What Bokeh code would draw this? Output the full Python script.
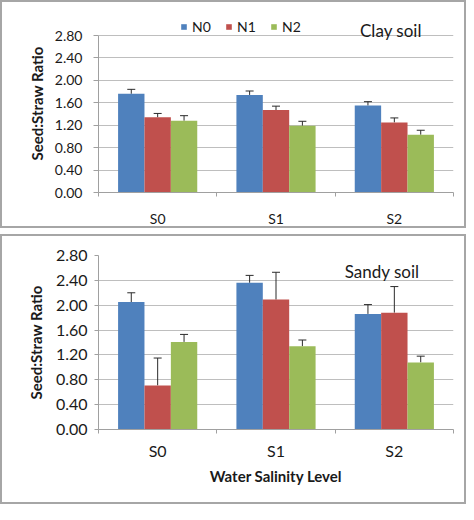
import numpy as np
from bokeh.plotting import figure
from bokeh.models import (ColumnDataSource, Range1d, FixedTicker, NumeralTickFormatter,
                          CustomJSTickFormatter, Whisker, TeeHead, Legend, LegendItem, Label)
from bokeh.layouts import column
from bokeh.embed import file_html
from bokeh.resources import INLINE

# ---------------- data ----------------
salinity = ["S0", "S1", "S2"]
nitrogen = ["N0", "N1", "N2"]
colors = ["#4F81BD", "#C0504D", "#9BBB59"]
y_ticks = [0.0, 0.4, 0.8, 1.2, 1.6, 2.0, 2.4, 2.8]

clay_N0 = [1.76, 1.74, 1.55]
clay_N1 = [1.34, 1.47, 1.25]
clay_N2 = [1.28, 1.19, 1.03]
clay_err_N0 = [0.08, 0.07, 0.07]
clay_err_N1 = [0.07, 0.07, 0.08]
clay_err_N2 = [0.09, 0.08, 0.08]

sandy_N0 = [2.05, 2.36, 1.86]
sandy_N1 = [0.71, 2.09, 1.88]
sandy_N2 = [1.41, 1.34, 1.08]
sandy_err_N0 = [0.15, 0.12, 0.15]
sandy_err_N1 = [0.44, 0.44, 0.42]
sandy_err_N2 = [0.12, 0.10, 0.10]

FONT = "Lato"
BAR_W = 0.223
W = 466


def make_panel(series, errors, height, ml, mr, mt, mb, head_px, plot_px, tick_fs, title_fs,
               soil_label, soil_x, soil_y, soil_fs, show_legend, xlabel,
               x_standoff, y_standoff, y_tick_out, ylab_standoff, xlab_standoff):
    ymax = y_ticks[-1]
    ytop = ymax * (plot_px + head_px) / plot_px
    p = figure(width=W, height=height, output_backend="svg", toolbar_location=None,
               x_range=Range1d(0, len(salinity)), y_range=Range1d(y_ticks[0], ytop),
               min_border_left=ml, min_border_right=mr, min_border_top=mt,
               min_border_bottom=mb)
    p.styles = {"border": "2px solid #A6A6A6"}
    p.outline_line_color = None
    p.background_fill_color = "white"
    p.border_fill_color = "white"

    centers = np.arange(len(salinity)) + 0.5
    offsets = [-BAR_W, 0.0, BAR_W]
    items = []
    for vals, errs, off, col, name in zip(series, errors, offsets, colors, nitrogen):
        vals = np.array(vals)
        src = ColumnDataSource(dict(x=centers + off, top=vals, hi=vals + np.array(errs)))
        r = p.vbar(x="x", top="top", bottom=0, width=BAR_W, source=src,
                   fill_color=col, line_color=None)
        items.append(LegendItem(label=name, renderers=[r]))
        w = Whisker(source=src, base="x", lower="top", upper="hi", dimension="height",
                    line_color="#2b2b2b", line_width=1,
                    upper_head=TeeHead(size=8, line_color="#2b2b2b", line_width=1),
                    lower_head=None)
        p.add_layout(w)

    # y axis
    p.yaxis.ticker = FixedTicker(ticks=y_ticks)
    p.yaxis.bounds = (y_ticks[0], ymax)
    p.yaxis.formatter = NumeralTickFormatter(format="0.00")
    p.yaxis.axis_label = "Seed:Straw Ratio"
    p.yaxis.axis_label_text_font = FONT
    p.yaxis.axis_label_text_font_style = "bold"
    p.yaxis.axis_label_text_font_size = title_fs
    p.yaxis.axis_label_text_color = "#1a1a1a"
    p.yaxis.axis_label_standoff = ylab_standoff
    p.yaxis.major_label_text_font = FONT
    p.yaxis.major_label_text_font_size = tick_fs
    p.yaxis.major_label_text_color = "#1a1a1a"
    p.yaxis.major_label_standoff = y_standoff
    p.yaxis.major_tick_in = 0
    p.yaxis.major_tick_out = y_tick_out
    p.yaxis.minor_tick_line_color = None
    p.yaxis.axis_line_color = "#A0A0A0"
    p.yaxis.major_tick_line_color = "#A0A0A0"

    # x axis
    p.xaxis.ticker = FixedTicker(ticks=list(centers), minor_ticks=list(range(len(salinity) + 1)))
    p.xaxis.formatter = CustomJSTickFormatter(args=dict(labels=salinity),
                                              code="return labels[Math.floor(tick)];")
    p.xaxis.major_tick_line_color = None
    p.xaxis.major_tick_in = 0
    p.xaxis.major_tick_out = 0
    p.xaxis.minor_tick_in = 0
    p.xaxis.minor_tick_out = 4
    p.xaxis.minor_tick_line_color = "#A0A0A0"
    p.xaxis.axis_line_color = "#A0A0A0"
    p.xaxis.major_label_text_font = FONT
    p.xaxis.major_label_text_font_size = tick_fs
    p.xaxis.major_label_text_color = "#1a1a1a"
    p.xaxis.major_label_standoff = x_standoff
    if xlabel:
        p.xaxis.axis_label = xlabel
        p.xaxis.axis_label_text_font = FONT
        p.xaxis.axis_label_text_font_style = "bold"
        p.xaxis.axis_label_text_font_size = title_fs
        p.xaxis.axis_label_text_color = "#1a1a1a"
        p.xaxis.axis_label_standoff = xlab_standoff

    p.xgrid.grid_line_color = None
    p.ygrid.grid_line_color = "#BEBEBE"
    p.ygrid.ticker = FixedTicker(ticks=y_ticks)

    p.add_layout(Label(x=soil_x, y=soil_y, text=soil_label, text_baseline="middle",
                       text_font=FONT, text_font_size=soil_fs, text_color="#1a1a1a"))

    if show_legend:
        leg = Legend(items=items, orientation="horizontal", location=(82, plot_px),
                     padding=0, margin=0, border_line_color=None, background_fill_alpha=0,
                     glyph_width=7, glyph_height=7, label_standoff=5, spacing=13,
                     label_height=14, label_text_font=FONT, label_text_font_size="14px",
                     label_text_color="#1a1a1a")
        p.add_layout(leg)
    return p


# top panel: frame 12..190 (2.80 line at 33), height 228
p1 = make_panel([clay_N0, clay_N1, clay_N2], [clay_err_N0, clay_err_N1, clay_err_N2],
                height=228, ml=96, mr=15, mt=12, mb=38, head_px=21, plot_px=157,
                tick_fs="14px", title_fs="15px",
                soil_label="Clay soil", soil_x=2.21, soil_y=2.89, soil_fs="17px",
                show_legend=True, xlabel=None, x_standoff=13, y_standoff=11,
                y_tick_out=5, ylab_standoff=6, xlab_standoff=0)

# bottom panel: frame 19..193, height 270
p2 = make_panel([sandy_N0, sandy_N1, sandy_N2], [sandy_err_N0, sandy_err_N1, sandy_err_N2],
                height=270, ml=91, mr=15, mt=19, mb=77, head_px=0, plot_px=174,
                tick_fs="16px", title_fs="15px",
                soil_label="Sandy soil", soil_x=2.08, soil_y=2.54, soil_fs="17px",
                show_legend=False, xlabel="Water Salinity Level", x_standoff=7, y_standoff=7,
                y_tick_out=4, ylab_standoff=8, xlab_standoff=4)

layout = column(p1, p2, spacing=6)
open("out.html", "w").write(file_html(layout, INLINE))
